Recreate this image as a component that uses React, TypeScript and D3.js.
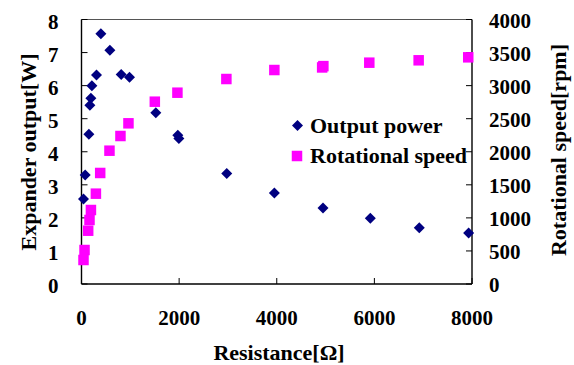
import React from "react";
import * as d3 from "d3";

const powerResistance = [41, 76, 151, 172, 192, 213, 307, 397, 581, 813, 983, 1523, 1973, 1995, 2976, 3951, 4948, 5917, 6920, 7931];
const powerValues = [2.57, 3.3, 4.53, 5.41, 5.62, 6.0, 6.32, 7.57, 7.07, 6.34, 6.25, 5.18, 4.5, 4.4, 3.34, 2.75, 2.3, 1.99, 1.7, 1.54];

const speedResistance = [41, 62, 137, 164, 193, 295, 383, 573, 798, 962, 1502, 1965, 2968, 3951, 4930, 4955, 5896, 6907, 7923];
const speedValues = [363, 514, 806, 968, 1119, 1366, 1679, 2016, 2238, 2430, 2757, 2893, 3100, 3236, 3275, 3295, 3347, 3383, 3428];

const xTicks = [0, 2000, 4000, 6000, 8000];
const leftTicks = [0, 1, 2, 3, 4, 5, 6, 7, 8];
const rightTicks = [0, 500, 1000, 1500, 2000, 2500, 3000, 3500, 4000];

const W = 574;
const H = 365;
const L = 81.5, R = 472, T = 19.5, B = 284;
const FONT = "'Liberation Serif', 'Times New Roman', serif";

export default function App() {
  const x = d3.scaleLinear().domain([0, 8000]).range([L, R]);
  const yL = d3.scaleLinear().domain([0, 8]).range([B, T]);
  const yR = d3.scaleLinear().domain([0, 4000]).range([B, T]);
  const diamond = (cx: number, cy: number, r: number) =>
    `M${cx},${cy - r}L${cx + r},${cy}L${cx},${cy + r}L${cx - r},${cy}Z`;
  const sq = 10.5;
  const dr = 5.5;
  const navy = "#000080";
  const mag = "#FF00FF";
  return (
    <svg width={W} height={H} style={{ position: "absolute", left: 0, top: 0, background: "#fff" }}>
      <rect x={0} y={0} width={W} height={H} fill="#fff" />
      {/* frame */}
      <line x1={L} x2={R} y1={T} y2={T} stroke="#555" strokeWidth={1} />
      <line x1={L} x2={L} y1={T} y2={B} stroke="#000" strokeWidth={1.4} />
      <line x1={R} x2={R} y1={T} y2={B} stroke="#000" strokeWidth={1.4} />
      <line x1={L} x2={R} y1={B} y2={B} stroke="#000" strokeWidth={1.4} />
      {leftTicks.map((t) => (
        <g key={"l" + t}>
          <line x1={L} x2={L + 6} y1={yL(t)} y2={yL(t)} stroke="#000" strokeWidth={1} />
          <text x={58.5} y={yL(t) + 9} textAnchor="end" fontFamily={FONT} fontWeight="bold" fontSize={21}>{t}</text>
        </g>
      ))}
      {rightTicks.map((t) => (
        <g key={"r" + t}>
          <line x1={R - 6} x2={R} y1={yR(t)} y2={yR(t)} stroke="#000" strokeWidth={1} />
          <text x={489} y={yR(t) + 8} textAnchor="start" fontFamily={FONT} fontWeight="bold" fontSize={21}>{t}</text>
        </g>
      ))}
      {xTicks.map((t) => (
        <g key={"x" + t}>
          <line x1={x(t)} x2={x(t)} y1={B} y2={B - 6} stroke="#000" strokeWidth={1} />
          <text x={x(t)} y={325} textAnchor="middle" fontFamily={FONT} fontWeight="bold" fontSize={21}>{t}</text>
        </g>
      ))}
      {/* series */}
      {powerResistance.map((r, i) => (
        <path key={"p" + i} d={diamond(x(r), yL(powerValues[i]), dr)} fill={navy} />
      ))}
      {speedResistance.map((r, i) => (
        <rect key={"s" + i} x={x(r) - sq / 2} y={yR(speedValues[i]) - sq / 2} width={sq} height={sq} fill={mag} />
      ))}
      {/* legend */}
      <path d={diamond(297.5, 125.5, dr)} fill={navy} />
      <text x={310} y={132.5} fontFamily={FONT} fontWeight="bold" fontSize={22}>Output power</text>
      <rect x={297 - sq / 2} y={156 - sq / 2} width={sq} height={sq} fill={mag} />
      <text x={310} y={163} fontFamily={FONT} fontWeight="bold" fontSize={22}>Rotational speed</text>
      {/* titles */}
      <text x={279} y={360} textAnchor="middle" fontFamily={FONT} fontWeight="bold" fontSize={22}>Resistance[Ω]</text>
      <text transform="translate(36,152) rotate(-90)" textAnchor="middle" fontFamily={FONT} fontWeight="bold" fontSize={22}>Expander output[W]</text>
      <text transform="translate(566,150) rotate(-90)" textAnchor="middle" fontFamily={FONT} fontWeight="bold" fontSize={22}>Rotational speed[rpm]</text>
    </svg>
  );
}
